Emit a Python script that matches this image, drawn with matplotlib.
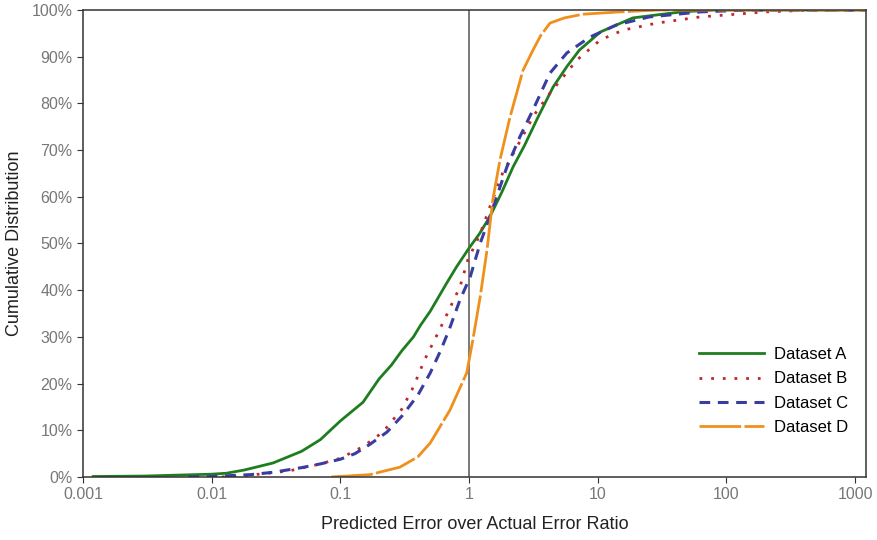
import matplotlib
matplotlib.use("Agg")
import matplotlib.pyplot as plt
from matplotlib.ticker import FixedLocator, FixedFormatter, PercentFormatter

plt.rcParams['font.family'] = ['Liberation Sans', 'DejaVu Sans']

# cumulative distributions (ratio, percent)
a_x = [0.0012, 0.003, 0.01, 0.013, 0.018, 0.03, 0.05, 0.07, 0.1, 0.15, 0.2, 0.25, 0.3,
       0.37, 0.42, 0.5, 0.67, 0.8, 1.0, 1.2, 1.45, 1.8, 2.2, 2.7, 3.43, 4.5, 5.8, 7.2,
       10.5, 18.7, 45, 80, 1200]
a_y = [0.1, 0.2, 0.6, 0.8, 1.5, 3, 5.5, 8, 12, 16, 21, 24, 27,
       30, 32.5, 35.5, 41.5, 45, 49, 52, 55.7, 61, 66.4, 71, 77, 83.5, 88, 91.4,
       95.3, 98.3, 99.6, 100, 100]

b_x = [0.012, 0.02, 0.04, 0.07, 0.1, 0.15, 0.214, 0.3, 0.37, 0.45, 0.59, 0.85, 0.98,
       1.22, 1.45, 1.82, 2.5, 3.2, 4.26, 6.9, 10.5, 15.8, 28.9, 62, 204, 500, 1200]
b_y = [0, 0.4, 1.3, 2.8, 4, 6.5, 9.6, 14.5, 19.3, 25, 31.5, 40.7, 46.5,
       52, 57.8, 65, 72, 77.5, 82.2, 89.3, 93.6, 95.7, 97.2, 98.5, 99.6, 100, 100]

c_x = [0.0066, 0.01, 0.02, 0.03, 0.05, 0.07, 0.1, 0.13, 0.17, 0.23, 0.3, 0.4, 0.5, 0.6,
       0.7, 0.85, 1.02, 1.22, 1.45, 1.97, 2.5, 3.14, 4.26, 5.76, 8.7, 14, 25, 63, 150, 1200]
c_y = [0, 0.1, 0.5, 1, 2, 2.8, 3.8, 5, 7, 9.6, 13, 17.5, 22.3, 27,
       31.5, 37.9, 42.8, 50, 55.7, 66.4, 73, 78.6, 86.5, 90.8, 94.2, 96.8, 98.5, 99.6, 100, 100]

d_x = [0.085, 0.17, 0.2, 0.29, 0.4, 0.5, 0.71, 0.96, 1.07, 1.22, 1.38, 1.53, 1.74, 2.08,
       2.62, 3.14, 3.6, 4.26, 5.5, 7.7, 15, 30, 1200]
d_y = [0, 0.5, 1, 2.1, 4.3, 7.3, 14.3, 22.3, 29.3, 38.5, 48.6, 59.3, 67.9, 77,
       87, 91.4, 94.5, 97.2, 98.3, 99.1, 99.6, 100, 100]

fig = plt.figure(figsize=(8.77, 5.40), dpi=100)
ax = fig.add_axes([0.0946, 0.1167, 0.8929, 0.8648])

ax.axvline(1, color='#555555', lw=1.1, zorder=1)

ax.plot(a_x, a_y, color='#1e7d1e', lw=2.0, label='Dataset A')
ax.plot(b_x, b_y, color='#c0282d', lw=2.0, linestyle=(0, (1, 3.2)), label='Dataset B')
ax.plot(c_x, c_y, color='#3a3da0', lw=2.2, linestyle=(0, (3.5, 2.5)), label='Dataset C')
ax.plot(d_x, d_y, color='#f0901c', lw=2.0, linestyle=(0, (15, 1.2)), label='Dataset D')

ax.set_xscale('log')
ax.set_xlim(0.001, 1217)
ax.set_ylim(0, 100)

xt = [0.001, 0.01, 0.1, 1, 10, 100, 1000]
ax.xaxis.set_major_locator(FixedLocator(xt))
ax.xaxis.set_major_formatter(FixedFormatter(['0.001', '0.01', '0.1', '1', '10', '100', '1000']))
ax.xaxis.set_minor_locator(FixedLocator([]))
ax.set_yticks(range(0, 101, 10))
ax.yaxis.set_major_formatter(PercentFormatter(decimals=0))

ax.tick_params(axis='both', labelsize=11.5, labelcolor='#777777', color='#333333',
               direction='out', length=4)
for s in ax.spines.values():
    s.set_color('#333333')
    s.set_linewidth(1.1)

ax.set_xlabel('Predicted Error over Actual Error Ratio', fontsize=13, color='#222222', labelpad=10)
ax.set_ylabel('Cumulative Distribution', fontsize=13, color='#222222', labelpad=6)

ax.legend(loc='upper left', bbox_to_anchor=(0.768, 0.31), frameon=False, fontsize=12,
          handlelength=3.9, handletextpad=0.6, labelspacing=0.55)

fig.savefig('out.png', dpi=100)
